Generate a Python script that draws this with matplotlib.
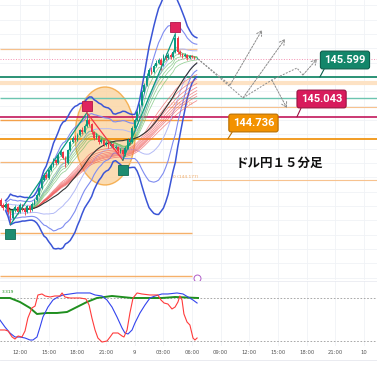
import matplotlib
matplotlib.use("Agg")
import matplotlib.pyplot as plt
import matplotlib.transforms as mtransforms
from matplotlib.patches import Ellipse
from matplotlib.lines import Line2D
import numpy as np
import pandas as pd

# ---------------- data ----------------
first_bar = -8
first_open = 143.883
close = [143.813, 143.771, 143.827, 143.716, 143.632, 143.744, 143.785, 143.716,
         143.813, 143.757, 143.716, 143.799, 143.744, 143.827, 143.883, 143.953, 144.050, 144.162,
         144.232, 144.190, 144.302, 144.357, 144.441, 144.399, 144.511, 144.553, 144.469, 144.399,
         144.581, 144.692, 144.748, 144.720, 144.790, 144.860, 144.832, 144.915, 144.999, 144.943,
         144.832, 144.748, 144.776, 144.692, 144.720, 144.650, 144.678, 144.636, 144.664, 144.609,
         144.622, 144.567, 144.581, 144.525, 144.609, 144.720, 144.692, 144.888, 144.999, 145.111,
         145.208, 145.390, 145.487, 145.613, 145.697, 145.669, 145.752, 145.794, 145.836, 145.766,
         145.892, 145.864, 145.906, 145.878, 145.948, 146.143, 145.948, 145.920, 145.892, 145.906,
         145.864, 145.892, 145.878, 145.864, 145.864]
high = [143.910, 143.840, 143.860, 143.845, 143.740, 143.770, 143.820, 143.800,
        143.840, 143.830, 143.780, 143.820, 143.815, 143.850, 143.900, 143.980, 144.070, 144.190,
        144.260, 144.270, 144.320, 144.380, 144.470, 144.460, 144.530, 144.590, 144.570, 144.490,
        144.600, 144.720, 144.780, 144.790, 144.820, 144.880, 144.900, 144.940, 145.100, 145.030,
        144.960, 144.850, 144.820, 144.790, 144.750, 144.740, 144.700, 144.700, 144.690, 144.680,
        144.650, 144.640, 144.610, 144.600, 144.630, 144.750, 144.760, 144.910, 145.030, 145.140,
        145.240, 145.420, 145.520, 145.650, 145.730, 145.740, 145.780, 145.830, 145.870, 145.860,
        145.920, 145.930, 145.940, 145.930, 145.970, 146.200, 146.170, 145.970, 145.940, 145.930,
        145.920, 145.910, 145.900, 145.895, 145.880]
low = [143.790, 143.750, 143.755, 143.690, 143.540, 143.610, 143.720, 143.690,
       143.700, 143.730, 143.680, 143.700, 143.720, 143.730, 143.810, 143.870, 143.940, 144.030,
       144.150, 144.170, 144.180, 144.290, 144.340, 144.370, 144.390, 144.500, 144.450, 144.350,
       144.390, 144.570, 144.680, 144.700, 144.710, 144.780, 144.810, 144.820, 144.900, 144.920,
       144.810, 144.720, 144.730, 144.670, 144.680, 144.630, 144.630, 144.610, 144.620, 144.590,
       144.590, 144.540, 144.540, 144.440, 144.500, 144.590, 144.670, 144.680, 144.870, 144.980,
       145.090, 145.190, 145.370, 145.470, 145.600, 145.640, 145.650, 145.740, 145.780, 145.700,
       145.750, 145.840, 145.850, 145.850, 145.860, 145.930, 145.920, 145.890, 145.870, 145.880,
       145.840, 145.850, 145.860, 145.850, 145.850]

time_ticks = [0, 12, 24, 36, 48, 60, 72, 84, 96, 108, 120, 132, 144]
time_labels = ["12:00", "15:00", "18:00", "21:00", "9", "03:00", "06:00",
               "09:00", "12:00", "15:00", "18:00", "21:00", "10"]

# zigzag pivots
pivot_bars = [-4, 28, 43, 65]
pivot_prices = [143.540, 145.100, 144.440, 146.200]
pivot_is_high = [False, True, False, True]

# horizontal levels
level_prices = [145.989, 145.850, 145.599, 145.515, 145.306, 145.180, 145.043,
                144.999, 144.736, 144.413, 144.162, 143.423, 142.823]
labeled_prices = [145.599, 145.043, 144.736]
fib_labels = ["1 (145.187)", "0 (144.177)"]
fib_label_prices = [145.180, 144.162]

# oscillator samples
red_x = [-8.4, -6.3, -5, -3.3, -2.1, -0.8, 0.8, 2.1, 3.3, 5, 6.3, 7.5, 9.2, 10.5, 12.6, 14.6, 16.7, 17.6,
         18.8, 20.9, 25.1, 27.6, 28.9, 30.1, 31.4, 32.6, 34.3, 36.4, 37.7, 38.9, 41, 42.7, 43.5, 44.8, 46,
         47.3, 49, 51, 54.4, 57.7, 59, 60.3, 61.9, 63.6, 64.9, 66.1, 66.9, 67.8, 68.6, 69.9, 71.1, 72.4,
         73.2, 74.1]
red_v = [35.4, 35.4, 34.0, 25.6, 22.8, 27.0, 25.6, 34.0, 52.1, 66.1, 68.8, 84.2, 85.6, 82.8, 81.4, 82.8,
         82.8, 87.0, 81.4, 80.0, 80.0, 78.6, 70.2, 52.1, 35.4, 24.2, 18.6, 20.0, 25.6, 31.2, 31.2, 27.0,
         25.6, 35.4, 59.1, 80.0, 87.0, 85.6, 84.2, 84.2, 77.2, 73.0, 71.6, 64.7, 67.4, 74.4, 82.8, 77.2,
         57.7, 46.5, 42.3, 24.2, 21.4, 24.2]
blue_x = [-8.4, -6.3, -4.2, -2.1, 0, 2.1, 4.2, 5.4, 7.1, 8.4, 9.6, 11.7, 13.8, 15.9, 18.0, 20.9, 23.8,
          26.4, 29.3, 31.4, 34.3, 36.4, 38.5, 40.6, 42.7, 43.9, 45.2, 46.9, 48.1, 50.2, 52.3, 54.4, 56.5,
          59.4, 61.9, 65.7, 68.2, 70.3, 72.4, 74.1]
blue_v = [49.3, 39.6, 31.2, 25.6, 25.6, 24.2, 21.4, 21.4, 25.6, 39.6, 53.5, 67.4, 77.2, 81.4, 84.2, 85.6,
          87.0, 87.0, 87.0, 84.2, 82.8, 77.2, 67.4, 53.5, 38.2, 31.2, 29.8, 35.4, 45.1, 59.1, 70.2, 80.0,
          82.8, 85.6, 85.6, 87.0, 85.6, 81.4, 77.2, 73.0]
green_x = [-8.4, -4.2, 0, 4.2, 7.1, 11.3, 15.5, 19.7, 23.8, 28.0, 32.2, 38.5, 46.9, 59.4, 64.9, 74.5]
green_v = [80, 80, 74.4, 66.1, 57.7, 59.1, 59.1, 60.5, 67.4, 74.4, 80, 82.8, 80, 80, 81.4, 80]
osc_levels = [80, 20]

# projection arrows (bar, price)
proj_paths = [
    ([74.5, 87.9, 101.3], [145.850, 145.487, 146.255]),
    ([74.5, 93.3, 110.9], [145.850, 145.306, 146.129]),
    ([93.3, 105.4, 115.9, 118.4, 124.3], [145.306, 145.557, 145.724, 145.627, 145.850]),
    ([105.4, 111.7], [145.557, 145.166]),
]

# ---------------- figure ----------------
W = H = 377
fig = plt.figure(figsize=(3.77, 3.77), dpi=100)
ax = fig.add_axes([0, 1 - 280 / H, 1, 280 / H])
ax2 = fig.add_axes([0, 1 - 346 / H, 1, 65 / H], sharex=ax)

XMIN, XMAX = -8.37, 149.4
ax.set_xlim(XMIN, XMAX)
ax.set_ylim(142.767, 146.673)
ax2.set_ylim(13.05, 103.7)

for a in (ax, ax2):
    for s in a.spines.values():
        s.set_visible(False)
    a.tick_params(length=0, labelleft=False, labelbottom=False)
    a.set_xticks(time_ticks)
    a.grid(True, color="#f0f2f6", lw=0.6)
    a.set_axisbelow(True)
ax.set_yticks(np.arange(142.8, 146.7, 0.2))
ax2.set_yticks([])
ax2.tick_params(labelbottom=True, labelsize=3.8, labelcolor="#555555", pad=3)
ax2.set_xticklabels(time_labels)

bars = np.arange(first_bar, first_bar + len(close))
c = pd.Series(close, index=bars)
opens = np.array([first_open] + close[:-1])
closes = np.array(close)

# levels
lvl_colors = ["#f6c08c", "#f48fb1", "#1b8a6b", "#fde2c4", "#6cc5b0", "#f7c28f", "#c2185b",
              "#f3a04a", "#f08c00", "#f6b779", "#f7c28f", "#f5b06a", "#f5b06a"]
lvl_lw = [0.9, 0.7, 1.3, 3.0, 1.0, 0.8, 1.2, 1.0, 1.2, 0.9, 0.8, 1.0, 1.0]
lvl_ls = ["-", ":", "-", "-", "-", "-", "-", "-", "-", "-", "-", "-", "-"]
lvl_span = [(XMIN, 74), (XMIN, XMAX), (XMIN, XMAX), (XMIN, XMAX), (XMIN, XMAX), (61.5, XMAX),
            (XMIN, XMAX), (XMIN, 72), (XMIN, XMAX), (XMIN, 72), (72, XMAX), (XMIN, 72), (XMIN, 72)]
for p, col, lw, ls, (x0, x1) in zip(level_prices, lvl_colors, lvl_lw, lvl_ls, lvl_span):
    ax.hlines(p, x0, x1, colors=col, lw=lw, linestyles=ls, zorder=1.5)
for t, p in zip(fib_labels, fib_label_prices):
    ax.text(61.5 if p > 145 else 64, p + 0.02, t, fontsize=3.2, color="#f0a860", va="bottom", zorder=1.6)

# ellipse
ell = Ellipse((35.6, 144.776), 25.1, 1.367, facecolor="#fbd4a0", alpha=0.8,
              edgecolor="#f4a236", lw=1.0, zorder=1.2)
ax.add_patch(ell)

# Bollinger bands
sma = c.rolling(20, min_periods=3).mean()
sd = c.rolling(20, min_periods=3).std(ddof=0)
band_cols = {3: "#3b55d6", 2: "#7f8cf0", 1: "#b3baf6"}
band_lw = {3: 1.1, 2: 0.8, 1: 0.7}
for k in (1, 2, 3):
    ax.plot(bars, sma + k * sd, color=band_cols[k], lw=band_lw[k], zorder=2)
    ax.plot(bars, sma - k * sd, color=band_cols[k], lw=band_lw[k], zorder=2)

# GMMA
for n in (30, 35, 40, 45, 50, 55, 60, 70):
    ax.plot(bars, c.ewm(span=n).mean(), color="#f05a5a", lw=0.55, alpha=0.7, zorder=2.1)
for n in (3, 5, 8, 10, 12, 15):
    ax.plot(bars, c.ewm(span=n).mean(), color="#5cb85c", lw=0.55, alpha=0.65, zorder=2.2)
ax.plot(bars, c.rolling(25, min_periods=1).mean(), color="#333333", lw=0.8, zorder=2.3)

# candles
up = closes >= opens
colors = np.where(up, "#089981", "#f23645")
ax.vlines(bars, low, high, colors=colors, lw=0.6, zorder=3)
body_bottom = np.minimum(opens, closes)
body_h = np.maximum(np.abs(closes - opens), 0.006)
ax.bar(bars, body_h, bottom=body_bottom, width=0.7, color=colors, lw=0, zorder=3.1)

# zigzag
for i in range(len(pivot_bars) - 1):
    col = "#089981" if pivot_prices[i + 1] > pivot_prices[i] else "#f23645"
    ax.plot(pivot_bars[i:i + 2], pivot_prices[i:i + 2], color=col, lw=0.9, zorder=3.5)
for b, p, hi in zip(pivot_bars, pivot_prices, pivot_is_high):
    tr = mtransforms.offset_copy(ax.transData, fig=fig, y=(5 if hi else -7), units="points")
    ax.plot([b], [p], marker="s", ms=6.5, color=("#e0245e" if hi else "#1e8c70"),
            mec=("#b0174a" if hi else "#136b55"), mew=0.6, transform=tr, zorder=5)

# projection arrows
for xs, ys in proj_paths:
    ax.plot(xs[:-1], ys[:-1], color="#8c8c8c", lw=0.7, ls=(0, (2, 1.4)), zorder=4)
    ax.annotate("", xy=(xs[-1], ys[-1]), xytext=(xs[-2], ys[-2]),
                arrowprops=dict(arrowstyle="->,head_length=0.35,head_width=0.2", color="#8c8c8c",
                                lw=0.7, ls=(0, (2, 1.4)), shrinkA=0, shrinkB=0), zorder=4)

# price label boxes
box_fc = ["#13866a", "#d81b5c", "#f39200"]
box_ec = ["#0d5e4b", "#9a1342", "#b86e00"]
box_xy = [(136.0, 145.836), (126.2, 145.292), (97.7, 144.957)]
tail_x = [125.5, 115.9, 87.0]
for p, fc, ec, (bx, by), tx in zip(labeled_prices, box_fc, box_ec, box_xy, tail_x):
    ax.annotate(f"{p:.3f}", xy=(tx, p), xytext=(bx, by), textcoords="data",
                ha="center", va="center", fontsize=8, fontweight="bold", color="white",
                family="Roboto",
                bbox=dict(boxstyle="round,pad=0.35,rounding_size=0.2", fc=fc, ec=ec, lw=0.8),
                arrowprops=dict(arrowstyle="-", color=ec, lw=0.8, shrinkA=0, shrinkB=0,
                                relpos=(0.05, 0.0)), zorder=6)

ax.text(108.4, 144.399, "ドル円１５分足", fontsize=9, fontweight="bold", color="#111111",
        ha="center", va="center", family=["Noto Sans CJK JP", "DejaVu Sans"], zorder=6)

# event icon
ax.plot([74.2], [142.79], marker="o", ms=5, mfc="white", mec="#b05cc8", mew=0.7, clip_on=False, zorder=6)

# oscillator
for lv in osc_levels:
    ax2.axhline(lv, color="#9a9a9a", lw=0.6, ls=(0, (2, 2)))
ax2.plot(green_x, green_v, color="#1f8f1f", lw=1.4, zorder=3)
ax2.plot(blue_x, blue_v, color="#3344ee", lw=0.8, zorder=3.1)
ax2.plot(red_x, red_v, color="#ff3b3b", lw=0.8, zorder=3.2)
ax2.text(-7.8, 89, "3.319", fontsize=3.2, color="#1f8f1f", va="center")

fig.add_artist(Line2D([0, 1], [1 - 281 / H] * 2, color="#e6e8ee", lw=0.5))
fig.add_artist(Line2D([0, 1], [1 - 360 / H] * 2, color="#e6e8ee", lw=0.6))

fig.savefig("out.png", dpi=100)
